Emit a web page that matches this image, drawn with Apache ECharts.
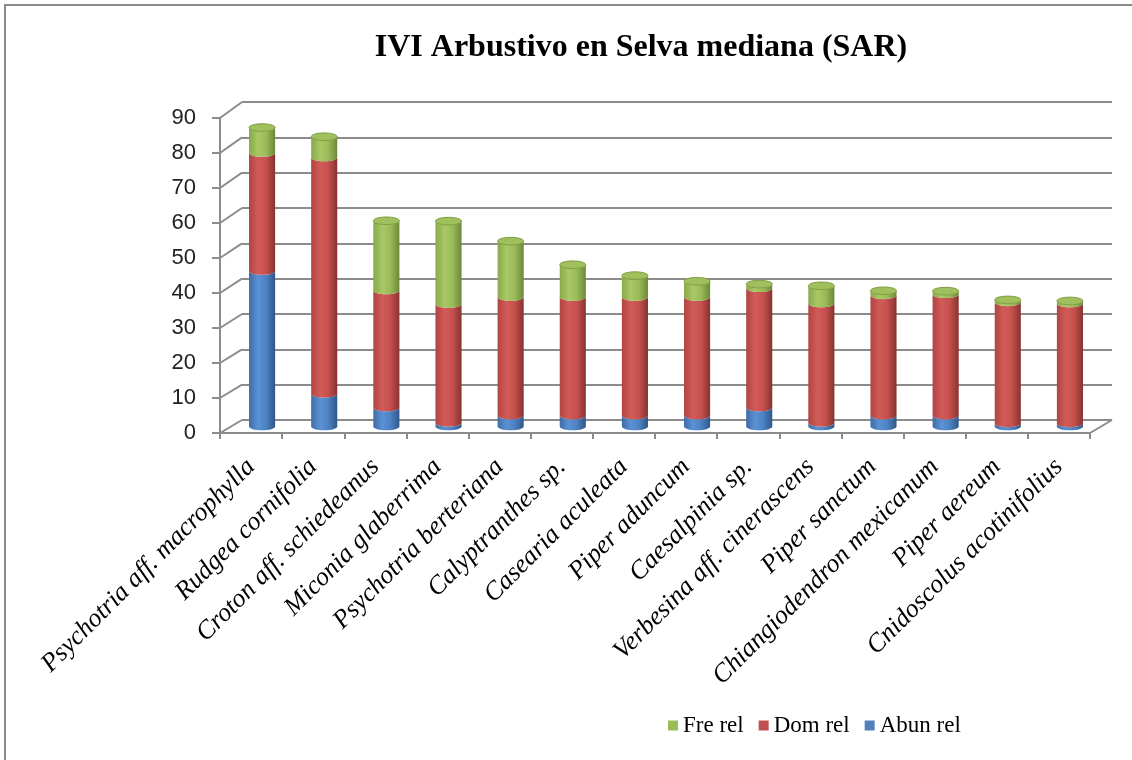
<!DOCTYPE html>
<html>
<head>
<meta charset="utf-8">
<title>IVI Arbustivo en Selva mediana (SAR)</title>
<script src="https://cdn.jsdelivr.net/npm/echarts@6/dist/echarts.min.js"></script>
<style>
  html, body { margin: 0; padding: 0; background: #ffffff; }
  #main { width: 1132px; height: 760px; }
</style>
</head>
<body>
<div id="main"></div>
<script>
// Species (categories) and the three relative components of the IVI
const species = [
  'Psychotria aff. macrophylla', 'Rudgea cornifolia', 'Croton aff. schiedeanus',
  'Miconia glaberrima', 'Psychotria berteriana', 'Calyptranthes sp.',
  'Casearia aculeata', 'Piper aduncum', 'Caesalpinia sp.',
  'Verbesina aff. cinerascens', 'Piper sanctum', 'Chiangiodendron mexicanum',
  'Piper aereum', 'Cnidoscolus acotinifolius'
];
const abunRel = [44.2, 9.3, 5.4, 1.1, 3.1, 3.1, 3.1, 3.1, 5.4, 1.1, 3.1, 3.1, 0.9, 0.9];
const domRel  = [33.6, 67.2, 33.3, 33.7, 33.7, 33.7, 33.7, 33.7, 33.9, 33.9, 34.2, 34.5, 34.4, 34.1];
const freRel  = [7.2, 5.9, 19.8, 23.6, 15.9, 9.2, 6.1, 4.5, 1.2, 5.0, 1.3, 0.9, 0.7, 0.7];
const yTicks  = [0, 10, 20, 30, 40, 50, 60, 70, 80, 90];
const seriesNames = ['Abun rel', 'Dom rel', 'Fre rel'];

// Plot planes of the pseudo-3D box: front (axes), middle (columns), back wall (grid lines)
const FRONT = { left: 220, top: 118, width: 870, height: 315 };
const MID   = { left: 231, top: 110, width: 870, height: 316.5 };
const BACK  = { left: 242, top: 102, width: 870, height: 318 };
const GRID_COLOR = '#8c8c8c';

const values = [abunRel, domRel, freRel];
const bases = values.map((v, s) => v.map((_, i) => {
  let b = 0;
  for (let k = 0; k < s; k++) b += values[k][i];
  return b;
}));

const shades = [
  { base: '#4F81BD', stops: ['#3f6ca6', '#5b92d4', '#4d82c3', '#30578a'] },
  { base: '#C0504D', stops: ['#b04542', '#d25b58', '#c5514e', '#883230'] },
  { base: '#9BBB59', stops: ['#89a94b', '#a8c966', '#9bbb59', '#6d8838'] }
];

function bodyPath(x0, x1, yT, yB, ry) {
  const k = 0.5523, rx = (x1 - x0) / 2, xc = (x0 + x1) / 2;
  return 'M' + x0 + ' ' + yT +
    ' L' + x0 + ' ' + yB +
    ' C' + x0 + ' ' + (yB + ry * k) + ' ' + (xc - rx * k) + ' ' + (yB + ry) + ' ' + xc + ' ' + (yB + ry) +
    ' C' + (xc + rx * k) + ' ' + (yB + ry) + ' ' + x1 + ' ' + (yB + ry * k) + ' ' + x1 + ' ' + yB +
    ' L' + x1 + ' ' + yT +
    ' C' + x1 + ' ' + (yT + ry * k) + ' ' + (xc + rx * k) + ' ' + (yT + ry) + ' ' + xc + ' ' + (yT + ry) +
    ' C' + (xc - rx * k) + ' ' + (yT + ry) + ' ' + x0 + ' ' + (yT + ry * k) + ' ' + x0 + ' ' + yT + ' Z';
}

function ellipsePath(cx, cy, rx, ry) {
  const k = 0.5523;
  return 'M' + (cx - rx) + ' ' + cy +
    ' C' + (cx - rx) + ' ' + (cy - ry * k) + ' ' + (cx - rx * k) + ' ' + (cy - ry) + ' ' + cx + ' ' + (cy - ry) +
    ' C' + (cx + rx * k) + ' ' + (cy - ry) + ' ' + (cx + rx) + ' ' + (cy - ry * k) + ' ' + (cx + rx) + ' ' + cy +
    ' C' + (cx + rx) + ' ' + (cy + ry * k) + ' ' + (cx + rx * k) + ' ' + (cy + ry) + ' ' + cx + ' ' + (cy + ry) +
    ' C' + (cx - rx * k) + ' ' + (cy + ry) + ' ' + (cx - rx) + ' ' + (cy + ry * k) + ' ' + (cx - rx) + ' ' + cy + ' Z';
}

function cylinderRenderer(s) {
  return function (params, api) {
    const i = params.dataIndex;
    const b = bases[s][i];
    const t = b + values[s][i];
    const pB = api.coord([i, b]);
    const pT = api.coord([i, t]);
    const w = api.size([1, 0])[0] * 0.42;
    const x0 = pB[0] - w / 2, x1 = pB[0] + w / 2;
    const ry = 3.8;
    const st = shades[s].stops;
    const children = [{
      type: 'path',
      shape: { pathData: bodyPath(x0, x1, pT[1], pB[1], ry) },
      style: {
        fill: new echarts.graphic.LinearGradient(0, 0, 1, 0, [
          { offset: 0, color: st[0] }, { offset: 0.35, color: st[1] },
          { offset: 0.65, color: st[2] }, { offset: 1, color: st[3] }
        ]),
        stroke: null
      }
    }];
    if (s === values.length - 1) {
      children.push({
        type: 'path',
        shape: { pathData: ellipsePath(pT[0], pT[1], w / 2, ry) },
        style: { fill: '#9fc05d', stroke: '#7f9d42', lineWidth: 1 }
      });
    }
    return { type: 'group', children: children };
  };
}

const hiddenCat = { type: 'category', data: species, show: false };
const hiddenVal = { type: 'value', min: 0, max: 90, interval: 10, show: false };

const option = {
  animation: false,
  backgroundColor: '#ffffff',
  title: {
    text: 'IVI Arbustivo en Selva mediana (SAR)',
    left: 636,
    top: 27,
    textAlign: 'center',
    textStyle: { fontFamily: 'Liberation Serif', fontWeight: 'bold', fontSize: 32, color: '#000000' }
  },
  legend: {
    data: ['Fre rel', 'Dom rel', 'Abun rel'],
    left: 663,
    top: 709,
    icon: 'rect',
    itemWidth: 10,
    itemHeight: 10,
    itemGap: 15,
    textStyle: { fontFamily: 'Liberation Serif', fontSize: 23, color: '#000000' }
  },
  grid: [
    Object.assign({ containLabel: false }, FRONT),
    Object.assign({ containLabel: false }, MID),
    Object.assign({ containLabel: false }, BACK)
  ],
  xAxis: [
    {
      type: 'category', data: species, gridIndex: 0,
      axisLine: { show: true, lineStyle: { color: GRID_COLOR, width: 2 } },
      axisTick: { show: true, length: 6, lineStyle: { color: GRID_COLOR, width: 2 } },
      axisLabel: {
        rotate: 45, margin: 30, interval: 0,
        fontFamily: 'Liberation Serif', fontStyle: 'italic', fontSize: 26, color: '#000000'
      },
      splitLine: { show: false }
    },
    Object.assign({ gridIndex: 1 }, hiddenCat),
    Object.assign({ gridIndex: 2 }, hiddenCat)
  ],
  yAxis: [
    {
      type: 'value', gridIndex: 0, min: 0, max: 90, interval: 10,
      axisLine: { show: true, lineStyle: { color: GRID_COLOR, width: 2 } },
      axisTick: { show: true, length: 8, lineStyle: { color: GRID_COLOR, width: 2 } },
      axisLabel: { margin: 24, fontFamily: 'Liberation Sans', fontSize: 22, color: '#222222' },
      splitLine: { show: false }
    },
    Object.assign({ gridIndex: 1 }, hiddenVal),
    {
      type: 'value', gridIndex: 2, min: 0, max: 90, interval: 10,
      axisLine: { show: false }, axisTick: { show: false }, axisLabel: { show: false },
      splitLine: { show: true, lineStyle: { color: GRID_COLOR, width: 2 } }
    }
  ],
  series: values.map((v, s) => ({
    type: 'custom',
    name: seriesNames[s],
    xAxisIndex: 1,
    yAxisIndex: 1,
    itemStyle: { color: shades[s].base },
    encode: { x: 0, y: 1 },
    data: v.map((val, i) => [i, val]),
    renderItem: cylinderRenderer(s)
  }))
};

const chart = echarts.init(document.getElementById('main'), null, { renderer: 'canvas' });
chart.setOption(option);

// Side wall and floor edges joining the front axes to the back wall
const edges = [];
yTicks.forEach(v => {
  const yf = chart.convertToPixel({ yAxisIndex: 0 }, v);
  const yb = chart.convertToPixel({ yAxisIndex: 2 }, v);
  edges.push({
    type: 'line', silent: true,
    shape: { x1: FRONT.left, y1: yf, x2: BACK.left, y2: yb },
    style: { stroke: GRID_COLOR, lineWidth: 2 }
  });
});
const yf0 = chart.convertToPixel({ yAxisIndex: 0 }, 0);
const yb0 = chart.convertToPixel({ yAxisIndex: 2 }, 0);
edges.push({
  type: 'line', silent: true,
  shape: { x1: FRONT.left + FRONT.width, y1: yf0, x2: BACK.left + BACK.width, y2: yb0 },
  style: { stroke: GRID_COLOR, lineWidth: 2 }
});
// Chart area frame (top and left edges)
edges.push({
  type: 'polyline', silent: true,
  shape: { points: [[5, 760], [5, 5], [1132, 5]] },
  style: { stroke: '#8a8a8a', lineWidth: 2, fill: null }
});
chart.setOption({ graphic: edges });
</script>
</body>
</html>
